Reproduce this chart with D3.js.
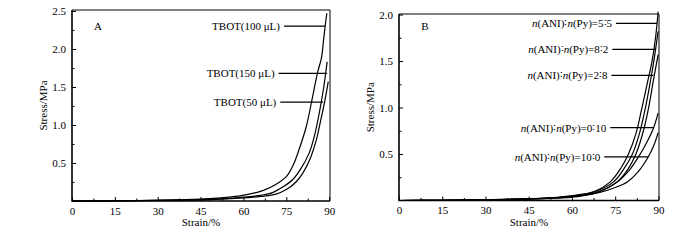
<!DOCTYPE html>
<html>
<head>
  <meta charset="UTF-8">
  <script src="https://d3js.org/d3.v7.min.js"></script>
  <style>
    * { margin: 0; padding: 0; }
    body { background: #fff; }
    svg text { font-family: "Liberation Serif", "Times New Roman", serif; fill: #000; }
  </style>
</head>
<body>
  <svg id="chart" width="700" height="240"></svg>
  <script>
    // panel A: TBOT amount
    const seriesA = ["TBOT(100 μL)", "TBOT(150 μL)", "TBOT(50 μL)"];
    const strainA100 = [0, 15, 30, 45, 55, 62, 67, 71, 75, 77.5, 79.5, 82, 84.2, 86, 87.3, 88, 88.6, 89.2];
    const stressA100 = [0, 0.003, 0.01, 0.025, 0.05, 0.09, 0.14, 0.21, 0.32, 0.48, 0.68, 0.98, 1.37, 1.7, 1.88, 2.1, 2.3, 2.47];
    const strainA150 = [0, 15, 30, 45, 55, 60, 66, 70.2, 74, 77.2, 80, 83, 85, 86.5, 88, 89.3];
    const stressA150 = [0, 0.002, 0.008, 0.018, 0.035, 0.05, 0.075, 0.11, 0.19, 0.28, 0.42, 0.63, 0.88, 1.15, 1.47, 1.83];
    const strainA50 = [0, 15, 30, 45, 55, 60, 66, 71.4, 75, 78.4, 81, 83.6, 85.5, 87.1, 88.5, 89.7];
    const stressA50 = [0, 0.002, 0.007, 0.015, 0.03, 0.04, 0.06, 0.09, 0.15, 0.25, 0.38, 0.58, 0.8, 1.07, 1.32, 1.57];

    // panel B: n(ANI):n(Py) ratio
    const seriesB = ["5:5", "8:2", "2:8", "0:10", "10:0"];
    const strainB55 = [0, 15, 30, 45, 55, 62, 68, 73.3, 77, 79.6, 82.2, 84.3, 86.2, 87.8, 89, 89.9];
    const stressB55 = [0, 0.002, 0.008, 0.02, 0.035, 0.06, 0.1, 0.2, 0.35, 0.5, 0.72, 1.0, 1.27, 1.5, 1.75, 2.03];
    const strainB82 = [0, 15, 30, 45, 55, 62, 68, 74.4, 78, 81, 83.5, 85.5, 87.2, 88.4, 89.9];
    const stressB82 = [0, 0.002, 0.008, 0.018, 0.032, 0.055, 0.095, 0.2, 0.34, 0.5, 0.73, 1.0, 1.28, 1.5, 1.82];
    const strainB28 = [0, 15, 30, 45, 55, 62, 69, 75.7, 79.5, 82.2, 84.8, 86.6, 88.3, 89.9];
    const stressB28 = [0, 0.002, 0.007, 0.016, 0.03, 0.05, 0.09, 0.2, 0.34, 0.5, 0.75, 1.0, 1.3, 1.57];
    const strainB010 = [0, 15, 30, 45, 55, 62, 69, 75.7, 80, 83.7, 86.2, 88.3, 89.9];
    const stressB010 = [0, 0.002, 0.007, 0.016, 0.03, 0.05, 0.09, 0.2, 0.33, 0.5, 0.64, 0.78, 0.94];
    const strainB100 = [0, 15, 30, 45, 55, 62, 70, 75, 79.2, 83, 86.5, 88.5, 89.9];
    const stressB100 = [0, 0.002, 0.006, 0.014, 0.026, 0.042, 0.09, 0.14, 0.2, 0.31, 0.47, 0.6, 0.73];

    const xTicks = [0, 15, 30, 45, 60, 75, 90];
    const yTicksA = [0.5, 1.0, 1.5, 2.0, 2.5];
    const yTicksB = [0.5, 1.0, 1.5, 2.0];

    // leader lines: stress level, strain where the text ends, strain where the line ends
    const leadStressA = [2.30, 1.68, 1.30];
    const leadFromA = [74.2, 72.3, 72.9];
    const leadToA = [88.6, 89.3, 87.9];
    const leadStressB = [1.906, 1.625, 1.345, 0.783, 0.47];
    const leadFromB = [75.3, 74.0, 73.7, 73.3, 71.2];
    const leadToB = [89.5, 89.0, 88.3, 88.3, 86.5];

    const zip = (xs, ys) => xs.map((v, i) => [v, ys[i]]);

    const panels = [
      {
        tag: "A", left: 72, right: 330, top: 10, bottom: 201, xMax: 90.3, yMax: 2.513,
        yTicks: yTicksA,
        lines: [zip(strainA100, stressA100), zip(strainA150, stressA150), zip(strainA50, stressA50)],
        labels: seriesA.map(s => [{t: s, i: false}]),
        leadStress: leadStressA, leadFrom: leadFromA, leadTo: leadToA
      },
      {
        tag: "B", left: 399, right: 659, top: 14, bottom: 200.5, xMax: 90.2, yMax: 2.006,
        yTicks: yTicksB,
        lines: [zip(strainB55, stressB55), zip(strainB82, stressB82), zip(strainB28, stressB28),
                zip(strainB010, stressB010), zip(strainB100, stressB100)],
        labels: seriesB.map(s => [
          {t: "n", i: true}, {t: "(ANI)\u2236", i: false}, {t: "n", i: true}, {t: "(Py)=" + s.replace(":", "\u2236"), i: false}
        ]),
        leadStress: leadStressB, leadFrom: leadFromB, leadTo: leadToB
      }
    ];

    const svg = d3.select("#chart");

    panels.forEach(p => {
      const x = d3.scaleLinear().domain([0, p.xMax]).range([p.left, p.right]);
      const y = d3.scaleLinear().domain([0, p.yMax]).range([p.bottom, p.top]);
      const g = svg.append("g");

      // minor ticks
      g.append("g")
        .attr("transform", `translate(0,${p.bottom})`)
        .call(d3.axisBottom(x).tickValues(d3.range(7.5, 90, 15)).tickSize(-2.5).tickFormat(""))
        .call(a => a.select(".domain").remove());
      g.append("g")
        .attr("transform", `translate(${p.left},0)`)
        .call(d3.axisLeft(y).tickValues(p.yTicks.map(v => v - 0.25)).tickSize(-2.5).tickFormat(""))
        .call(a => a.select(".domain").remove());

      // major ticks
      g.append("g")
        .attr("transform", `translate(0,${p.bottom})`)
        .call(d3.axisBottom(x).tickValues(xTicks).tickSize(-4).tickPadding(6).tickFormat(d3.format("d")))
        .call(a => a.select(".domain").remove())
        .call(a => a.selectAll("text").style("font-size", "11px"));
      g.append("g")
        .attr("transform", `translate(${p.left},0)`)
        .call(d3.axisLeft(y).tickValues(p.yTicks).tickSize(-4).tickPadding(6).tickFormat(d3.format(".1f")))
        .call(a => a.select(".domain").remove())
        .call(a => a.selectAll("text").style("font-size", "11px"));
      g.selectAll(".tick line").attr("stroke", "#000").attr("stroke-width", 1);

      // frame
      g.append("path")
        .attr("d", `M${p.left},${p.top}H${p.right}V${p.bottom}`)
        .attr("fill", "none").attr("stroke", "#000").attr("stroke-width", 1);
      g.append("path")
        .attr("d", `M${p.left},${p.top}V${p.bottom}H${p.right}`)
        .attr("fill", "none").attr("stroke", "#000").attr("stroke-width", 1.6);

      // curves
      const line = d3.line().x(d => x(d[0])).y(d => y(d[1])).curve(d3.curveCatmullRom.alpha(0.5));
      g.selectAll(".curve").data(p.lines).enter().append("path")
        .attr("class", "curve")
        .attr("d", line)
        .attr("fill", "none").attr("stroke", "#000").attr("stroke-width", 1.2);

      // labels with leaders
      p.labels.forEach((parts, i) => {
        const yy = y(p.leadStress[i]);
        const t = g.append("text")
          .attr("x", x(p.leadFrom[i]) - 4)
          .attr("y", yy)
          .attr("dy", "0.35em")
          .attr("text-anchor", "end")
          .style("font-size", "11px");
        parts.forEach(s => t.append("tspan").text(s.t).style("font-style", s.i ? "italic" : "normal"));
        g.append("line")
          .attr("x1", x(p.leadFrom[i])).attr("x2", x(p.leadTo[i]))
          .attr("y1", yy).attr("y2", yy)
          .attr("stroke", "#000").attr("stroke-width", 1.2);
      });

      // panel letter
      g.append("text")
        .attr("x", p.left + 26).attr("y", 30)
        .attr("text-anchor", "middle")
        .style("font-size", "11px")
        .text(p.tag);

      // axis titles
      g.append("text")
        .attr("x", (p.left + p.right) / 2).attr("y", 226)
        .attr("text-anchor", "middle")
        .style("font-size", "11px")
        .text("Strain/%");
      g.append("text")
        .attr("transform", `translate(${p.left - 29},${(p.top + p.bottom) / 2}) rotate(-90)`)
        .attr("text-anchor", "middle")
        .attr("dy", "0.35em")
        .style("font-size", "11px")
        .text("Stress/MPa");
    });
  </script>
</body>
</html>
